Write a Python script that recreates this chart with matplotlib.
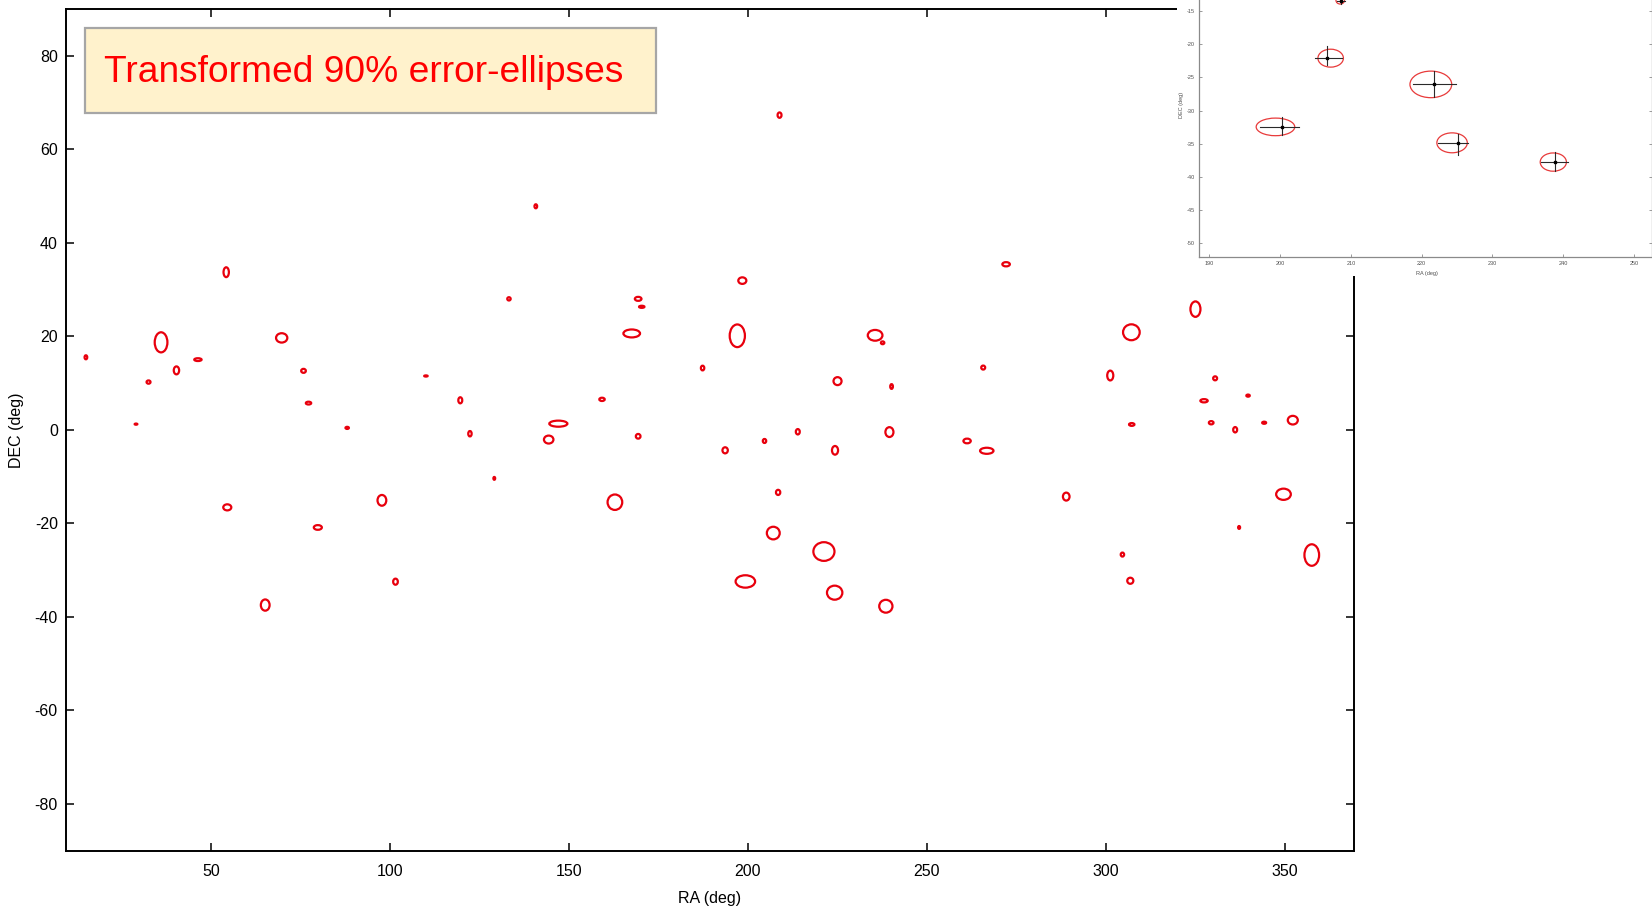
import matplotlib
matplotlib.use("Agg")
import matplotlib.pyplot as plt
from matplotlib.patches import Ellipse, Rectangle

plt.rcParams["font.family"] = ["Liberation Sans", "DejaVu Sans"]
plt.rcParams["axes.unicode_minus"] = False

# 90% error ellipses: centre (RA, DEC) and full widths in degrees
ell_ra = [15.1, 29.1, 32.6, 36.1, 40.4, 46.4, 54.3, 54.6, 65.2, 69.8,
          75.9, 77.3, 79.9, 88.1, 97.8, 101.6, 110.1, 119.7, 122.4, 129.2,
          133.3, 140.8, 144.4, 147.1, 159.3, 162.9, 167.6, 169.4, 170.4, 169.4,
          187.4, 193.7, 197.1, 198.5, 199.35, 204.7, 207.15, 208.5, 208.9, 214.0,
          221.3, 224.3, 224.4, 225.1, 235.6, 237.7, 238.6, 239.6, 240.2, 261.3,
          265.8, 266.8, 272.2, 289.0, 301.3, 304.7, 307.2, 307.3, 306.9, 325.1,
          327.5, 329.5, 330.6, 336.2, 337.3, 339.8, 344.3, 349.7, 352.3, 357.6]
ell_dec = [15.5, 1.2, 10.2, 18.7, 12.7, 15.0, 33.7, -16.6, -37.5, 19.65,
           12.6, 5.7, -20.9, 0.4, -15.1, -32.5, 11.5, 6.3, -0.85, -10.4,
           28.0, 47.8, -2.1, 1.3, 6.5, -15.5, 20.6, 28.0, 26.3, -1.4,
           13.2, -4.4, 20.1, 31.9, -32.45, -2.4, -22.1, -13.4, 67.3, -0.43,
           -26.05, -34.85, -4.4, 10.4, 20.2, 18.6, -37.75, -0.5, 9.25, -2.4,
           13.3, -4.5, 35.4, -14.3, 11.6, -26.7, 20.85, 1.13, -32.3, 25.8,
           6.2, 1.5, 11.0, 0.0, -20.9, 7.3, 1.5, -13.8, 2.05, -26.8]
ell_w = [0.75, 0.75, 1.1, 3.55, 1.5, 2.05, 1.5, 2.25, 2.45, 3.15,
         1.3, 1.5, 2.25, 0.95, 2.45, 1.3, 0.95, 1.1, 0.95, 0.5,
         0.95, 0.75, 2.65, 5.05, 1.5, 4.1, 4.65, 1.85, 1.5, 1.3,
         0.95, 1.5, 4.25, 2.25, 5.45, 0.95, 3.6, 1.2, 1.1, 1.1,
         5.9, 4.3, 1.7, 2.25, 4.1, 0.95, 3.7, 2.25, 0.75, 2.05,
         1.1, 3.75, 2.1, 1.85, 1.7, 0.95, 4.65, 1.5, 1.7, 2.8,
         2.05, 1.3, 1.1, 1.1, 0.55, 0.95, 1.1, 4.1, 2.8, 4.1]
ell_h = [0.85, 0.25, 0.7, 4.3, 1.7, 0.6, 2.1, 1.3, 2.4, 2.0,
         0.85, 0.6, 1.0, 0.45, 2.3, 1.3, 0.25, 1.3, 1.15, 0.6,
         0.7, 0.85, 1.7, 1.3, 0.7, 3.3, 1.7, 0.85, 0.45, 1.0,
         1.0, 1.3, 4.85, 1.4, 2.65, 0.85, 2.7, 1.1, 1.15, 1.15,
         4.0, 3.0, 1.85, 1.7, 2.3, 0.6, 2.75, 2.1, 1.0, 1.0,
         0.85, 1.3, 0.9, 1.7, 2.1, 0.85, 3.4, 0.6, 1.3, 3.3,
         0.7, 0.7, 0.85, 1.15, 0.6, 0.45, 0.45, 2.4, 1.85, 4.6]

# Detail view: source positions with their RA / DEC error bars
src_ra = [208.64, 206.6, 221.7, 200.3, 225.1, 238.9]
src_dec = [-13.5, -22.0, -26.0, -32.5, -34.84, -37.76]
src_ra_lo = [208.1, 205.0, 218.8, 197.2, 222.3, 236.9]
src_ra_hi = [209.2, 208.7, 224.9, 202.7, 226.5, 240.7]
src_dec_lo = [-13.9, -23.2, -28.0, -33.7, -36.7, -39.1]
src_dec_hi = [-13.0, -20.3, -24.0, -31.0, -33.5, -36.3]

main_xticks = [50, 100, 150, 200, 250, 300, 350]
main_yticks = [-80, -60, -40, -20, 0, 20, 40, 60, 80]
inset_xticks = [190, 200, 210, 220, 230, 240, 250]
inset_yticks = [-50, -45, -40, -35, -30, -25, -20, -15]

title_text = "Transformed 90% error-ellipses"

W, H = 1652, 908
fig = plt.figure(figsize=(W / 100, H / 100), dpi=100)
fig.patch.set_facecolor("white")


def fx(px):
    return px / W


def fy(py):
    return 1 - py / H


# ---- main sky map ----
ax = fig.add_axes([fx(65.5), fy(850.5), fx(1354) - fx(65.5), fy(9) - fy(850.5)])
ax.set_xlim(9.4, 369.4)
ax.set_ylim(-90, 90)
for ra, dec, w, h in zip(ell_ra, ell_dec, ell_w, ell_h):
    ax.add_patch(Ellipse((ra, dec), w, h, fill=False, edgecolor="#E8000D", lw=1.6))

ax.set_xticks(main_xticks)
ax.set_yticks(main_yticks)
ax.tick_params(direction="in", top=True, right=True, length=5.5, width=1.1,
               labelsize=11.5, colors="black")
ax.tick_params(axis="x", pad=10)
ax.tick_params(axis="y", pad=5.5)
for s in ax.spines.values():
    s.set_linewidth(1.4)
ax.set_xlabel("RA (deg)", fontsize=11.5)
ax.set_ylabel("DEC (deg)", fontsize=11.5)
ax.xaxis.set_label_coords(0.5, -(891 - 850.5) / 841.5)
ax.yaxis.set_label_coords((24 - 65.5) / 1288.5, 0.5)

# caption box
fig.add_artist(Rectangle((fx(84.8), fy(112.7)), fx(656) - fx(84.8), fy(28.3) - fy(112.7),
                         transform=fig.transFigure, facecolor="#FFF2CC",
                         edgecolor="#A6A6A6", lw=1.6, zorder=2))
fig.text(fx(103.6), fy(81.7), title_text, color="#FF0000", fontsize=26.7,
         ha="left", va="baseline", zorder=3)

# ---- detail panel in the upper right ----
fig.add_artist(Rectangle((fx(1177), fy(276)), 1 - fx(1177), fy(0) - fy(276),
                         transform=fig.transFigure, facecolor="white",
                         edgecolor="none", zorder=2))
ins = fig.add_axes([fx(1199), fy(256.7), fx(1651.5) - fx(1199), fy(0) - fy(256.7)])
ins.set_zorder(3)
ins.set_xlim(188.55, 252.47)
ins.set_ylim(-52.0, -13.34)
for ra, dec, w, h in zip(ell_ra, ell_dec, ell_w, ell_h):
    if 188 < ra < 253 and -53 < dec < -12:
        ins.add_patch(Ellipse((ra, dec), w, h, fill=False, edgecolor="#E83A3A", lw=0.9))
for ra, dec, rlo, rhi, dlo, dhi in zip(src_ra, src_dec, src_ra_lo, src_ra_hi,
                                       src_dec_lo, src_dec_hi):
    ins.plot([rlo, rhi], [dec, dec], color="#2A2A2A", lw=0.8)
    ins.plot([ra, ra], [dlo, dhi], color="#2A2A2A", lw=0.8)
ins.plot(src_ra, src_dec, "s", color="black", ms=1.8, lw=0)

ins.set_xticks(inset_xticks)
ins.set_yticks(inset_yticks)
ins.tick_params(direction="in", right=True, length=2, width=0.6,
                labelsize=4, colors="#8A8A8A", labelcolor="#505050", pad=3)
ins.spines["top"].set_visible(False)
for side in ("left", "bottom", "right"):
    ins.spines[side].set_color("#8A8A8A")
    ins.spines[side].set_linewidth(0.9)
ins.set_xlabel("RA (deg)", fontsize=4, color="#505050")
ins.set_ylabel("DEC (deg)", fontsize=4, color="#505050")
ins.xaxis.set_label_coords(0.503, -(270.5 - 256.7) / 256.7)
ins.yaxis.set_label_coords((1184.5 - 1199) / 452.5, (256.7 - 105) / 256.7)

fig.savefig("out.png", dpi=100)
